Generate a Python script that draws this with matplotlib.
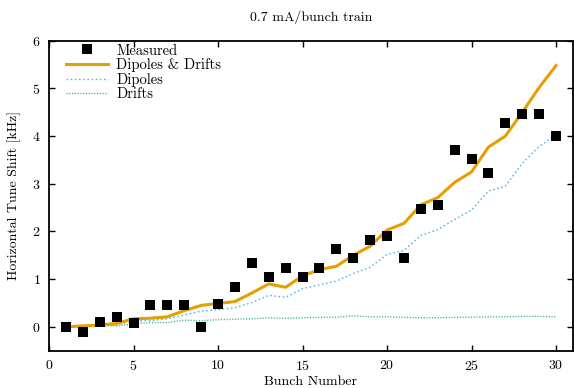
import numpy as np
import matplotlib.pyplot as plt

plt.rcParams['font.family'] = ['cmr10', 'DejaVu Serif']
plt.rcParams['mathtext.fontset'] = 'cm'
plt.rcParams['axes.formatter.use_mathtext'] = True

# Bunch index and measured tune shift [kHz]
bunch = np.arange(1, 31)
measured = [0.0, -0.1, 0.1, 0.2, 0.08, 0.45, 0.45, 0.45, 0.0, 0.48,
            0.83, 1.33, 1.04, 1.23, 1.04, 1.23, 1.63, 1.44, 1.82, 1.9,
            1.44, 2.47, 2.56, 3.71, 3.52, 3.23, 4.27, 4.46, 4.46, 4.0]

# Simulated contributions
dip_drift = [0.0, 0.02, 0.04, 0.07, 0.17, 0.18, 0.21, 0.34, 0.45, 0.49,
             0.53, 0.71, 0.9, 0.83, 1.07, 1.2, 1.27, 1.5, 1.69, 2.03,
             2.17, 2.56, 2.71, 3.03, 3.25, 3.77, 4.0, 4.5, 5.02, 5.48]
dipoles = [0.0, 0.01, 0.03, 0.04, 0.13, 0.13, 0.17, 0.25, 0.33, 0.36,
           0.4, 0.51, 0.66, 0.62, 0.8, 0.88, 0.96, 1.12, 1.25, 1.52,
           1.6, 1.92, 2.04, 2.25, 2.45, 2.85, 2.95, 3.43, 3.78, 4.04]
drifts = [0.0, 0.01, 0.02, 0.02, 0.06, 0.09, 0.09, 0.14, 0.13, 0.15,
          0.16, 0.17, 0.19, 0.18, 0.19, 0.2, 0.2, 0.23, 0.21, 0.21,
          0.2, 0.19, 0.19, 0.2, 0.2, 0.21, 0.21, 0.22, 0.22, 0.21]

fig = plt.figure(figsize=(5.74, 3.88), dpi=100)
ax = fig.add_axes([49/574, 1 - 350.7/388, (573 - 49)/574, (350.7 - 40.7)/388])

ax.plot(bunch, measured, 's', color='black', markersize=6.8, markeredgewidth=0,
        label='Measured', zorder=4)
ax.plot(bunch, dip_drift, '-', color='#E69F00', linewidth=2.2, label='Dipoles & Drifts', zorder=3)
ax.plot(bunch, dipoles, color='#56B4E9', linewidth=1.0, linestyle=(0, (1.2, 1.8)), label='Dipoles', zorder=2)
ax.plot(bunch, drifts, color='#009E73', linewidth=1.0, linestyle=(0, (0.8, 1.2)), alpha=0.8, label='Drifts', zorder=2)

ax.set_xlim(0, 31)
ax.set_ylim(-0.5, 6)
ax.set_xticks(range(0, 31, 5))
ax.set_yticks(range(0, 7))
ax.tick_params(direction='in', top=True, right=True, length=4, width=1, labelsize=10, pad=6)
for s in ax.spines.values():
    s.set_linewidth(1.3)

ax.set_xlabel('Bunch Number', fontsize=10, labelpad=2)
ax.set_ylabel('Horizontal Tune Shift [kHz]', fontsize=10, labelpad=8)
ax.set_title('0.7 mA/bunch train', fontsize=10, pad=14)

ax.legend(loc='upper left', frameon=False, fontsize=10.5, numpoints=1,
          handlelength=2.9, handletextpad=0.55, labelspacing=0.05,
          borderpad=0, borderaxespad=0, bbox_to_anchor=(0.032, 0.99))

fig.savefig('out.png', dpi=100)
